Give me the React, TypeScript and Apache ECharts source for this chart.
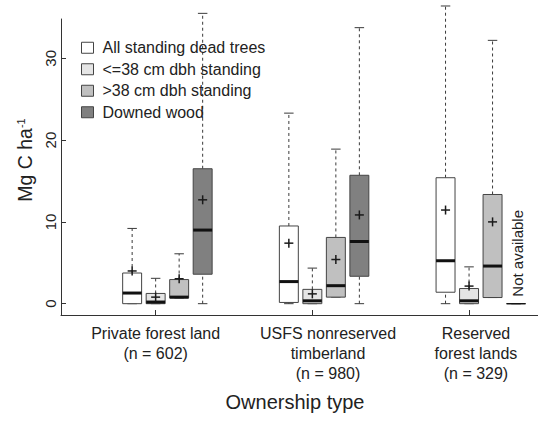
import React, { useEffect, useRef } from "react";
import * as echarts from "echarts";

// Ownership groups (x-axis categories)
const GROUPS = [
  "Private forest land\n(n = 602)",
  "USFS nonreserved\ntimberland\n(n = 980)",
  "Reserved\nforest lands\n(n = 329)",
];
// Pool types (legend)
const TYPES = [
  "All standing dead trees",
  "<=38 cm dbh standing",
  ">38 cm dbh standing",
  "Downed wood",
];
const Y_TICKS = [0, 10, 20, 30];
const X_TICKS = [1, 2, 3];
const X_LABEL_AT = [1, 2.1, 3.044];

// Each row (one per ownership group): [whiskerLow, q1, median, q3, whiskerHigh, mean]
const ALL_STANDING = [
  [0, 0, 1.3, 3.75, 9.2, 4.0],
  [0, 0.15, 2.7, 9.5, 23.3, 7.4],
  [0, 1.4, 5.25, 15.4, 36.4, 11.45],
];
const SMALL_STANDING = [
  [0, 0, 0.2, 1.25, 3.1, 0.8],
  [0, 0, 0.35, 1.75, 4.35, 1.2],
  [0, 0, 0.35, 1.85, 4.5, 2.15],
];
const LARGE_STANDING = [
  [0.7, 0.7, 0.8, 2.95, 6.1, 3.05],
  [0.8, 0.8, 2.2, 8.1, 18.9, 5.4],
  [0.75, 0.75, 4.6, 13.35, 32.2, 10.0],
];
const DOWNED = [
  [0, 3.6, 9.0, 16.5, 35.5, 12.7],
  [0, 3.35, 7.6, 15.7, 33.75, 10.85],
  [0, 0, 0, 0, 0, null],
];
const NOT_AVAILABLE = "Not available";

const SERIES_DATA = [ALL_STANDING, SMALL_STANDING, LARGE_STANDING, DOWNED];
const FILLS = ["#ffffff", "#e5e5e5", "#c0c0c0", "#808080"];
const FONT = '"Liberation Sans", Arial, Helvetica, sans-serif';
const OFFSET_STEP = 0.15;
const BOX_W = 0.121;

function makeRender(fill: string) {
  return (params: any, api: any) => {
    const x = api.value(0);
    const lo = api.value(1);
    const q1 = api.value(2);
    const md = api.value(3);
    const q3 = api.value(4);
    const hi = api.value(5);
    const mn = api.value(6);
    const w = api.size([BOX_W, 0])[0];
    const cx = api.coord([x, lo])[0];
    const yLo = api.coord([x, lo])[1];
    const yQ1 = api.coord([x, q1])[1];
    const yMd = api.coord([x, md])[1];
    const yQ3 = api.coord([x, q3])[1];
    const yHi = api.coord([x, hi])[1];
    const capW = w / 2;
    const dash = { stroke: "#3a3a3a", lineWidth: 1, lineDash: [3, 3] };
    const solid = { stroke: "#3a3a3a", lineWidth: 1 };
    const children: any[] = [
      { type: "line", shape: { x1: cx, y1: yQ3, x2: cx, y2: yHi }, style: dash },
      { type: "line", shape: { x1: cx, y1: yLo, x2: cx, y2: yQ1 }, style: dash },
      { type: "line", shape: { x1: cx - capW / 2, y1: yHi, x2: cx + capW / 2, y2: yHi }, style: solid },
      { type: "line", shape: { x1: cx - capW / 2, y1: yLo, x2: cx + capW / 2, y2: yLo }, style: solid },
      {
        type: "rect",
        shape: { x: cx - w / 2, y: yQ3, width: w, height: yQ1 - yQ3 },
        style: { fill, stroke: "#444", lineWidth: 1 },
      },
    ];
    if (isFinite(mn)) {
      children.push({
        type: "line",
        shape: { x1: cx - w / 2, y1: yMd, x2: cx + w / 2, y2: yMd },
        style: { stroke: "#111", lineWidth: 3 },
      });
      const [, yMn] = api.coord([x, mn]);
      const p = 4.5;
      children.push(
        { type: "line", shape: { x1: cx - p, y1: yMn, x2: cx + p, y2: yMn }, style: { stroke: "#1a1a1a", lineWidth: 1.5 } },
        { type: "line", shape: { x1: cx, y1: yMn - p, x2: cx, y2: yMn + p }, style: { stroke: "#1a1a1a", lineWidth: 1.5 } }
      );
    } else {
      children.push({
        type: "line",
        shape: { x1: cx - w / 2, y1: yMd, x2: cx + w / 2, y2: yMd },
        style: { stroke: "#111", lineWidth: 1.2 },
      });
      children.push({
        type: "text",
        x: cx + 1.5,
        y: yMd - 7,
        rotation: Math.PI / 2,
        style: {
          text: NOT_AVAILABLE,
          fill: "#222",
          fontSize: 15,
          fontFamily: FONT,
          align: "left",
          verticalAlign: "middle",
        },
      });
    }
    return { type: "group", children };
  };
}

export default function App() {
  const ref = useRef<HTMLDivElement>(null);
  useEffect(() => {
    const chart = echarts.init(ref.current!, null, { renderer: "svg" });
    const option: any = {
      animation: false,
      backgroundColor: "#ffffff",
      textStyle: { fontFamily: FONT, color: "#222" },
      grid: { left: 61, top: 19, right: 0, bottom: 109, containLabel: false },
      legend: {
        orient: "vertical",
        left: 81,
        top: 37,
        padding: 0,
        itemGap: 0,
        itemWidth: 12,
        itemHeight: 11,
        selectedMode: false,
        textStyle: { fontSize: 16, color: "#222", lineHeight: 21.5, padding: [0, 0, 0, 4], fontFamily: FONT },
        data: TYPES.map((name, i) => ({
          name,
          icon: "rect",
          itemStyle: { color: FILLS[i], borderColor: "#444", borderWidth: 1 },
        })),
      },
      xAxis: {
        type: "value",
        min: 0.396,
        max: 3.44,
        axisLine: { show: true, onZero: false, lineStyle: { color: "#333", width: 1 } },
        axisTick: { show: true, inside: true, length: 5, customValues: X_TICKS, lineStyle: { color: "#333" } },
        axisLabel: {
          customValues: X_LABEL_AT,
          formatter: (v: number) => GROUPS[Math.round(v) - 1],
          fontSize: 16,
          lineHeight: 20,
          color: "#222",
          margin: 8,
          fontFamily: FONT,
        },
        splitLine: { show: false },
        name: "Ownership type",
        nameLocation: "middle",
        nameGap: 77,
        nameTextStyle: { fontSize: 20, color: "#222", padding: [0, 9, 0, 0], fontFamily: FONT },
      },
      yAxis: {
        type: "value",
        min: -1.385,
        max: 34.81,
        axisLine: { show: true, onZero: false, lineStyle: { color: "#333", width: 1 } },
        axisTick: { show: true, inside: true, length: 5, customValues: Y_TICKS, lineStyle: { color: "#333" } },
        axisLabel: { customValues: Y_TICKS, rotate: 90, fontSize: 15, margin: 3, color: "#222", fontFamily: FONT },
        splitLine: { show: false },
        name: "{a|Mg C ha}{s|-1}",
        nameLocation: "middle",
        nameRotate: 90,
        nameGap: 24,
        nameTextStyle: {
          padding: [0, 0, 0, 14],
          rich: {
            a: { fontSize: 19.5, color: "#222", fontFamily: FONT },
            s: { fontSize: 11, color: "#222", verticalAlign: "top", fontFamily: FONT },
          },
        },
      },
      series: TYPES.map((name, t) => ({
        type: "custom",
        name,
        clip: false,
        itemStyle: { color: FILLS[t], borderColor: "#444" },
        encode: { x: 0, y: [1, 2, 3, 4, 5] },
        data: SERIES_DATA[t].map((r, g) => [
          X_TICKS[g] + (t - 1) * OFFSET_STEP,
          ...r.map((v) => (v == null ? "-" : v)),
        ]),
        renderItem: makeRender(FILLS[t]),
      })),
    };
    chart.setOption(option);
    return () => chart.dispose();
  }, []);
  return (
    <div
      ref={ref}
      style={{ position: "fixed", left: 0, top: 0, width: 538, height: 424, background: "#fff" }}
    />
  );
}
